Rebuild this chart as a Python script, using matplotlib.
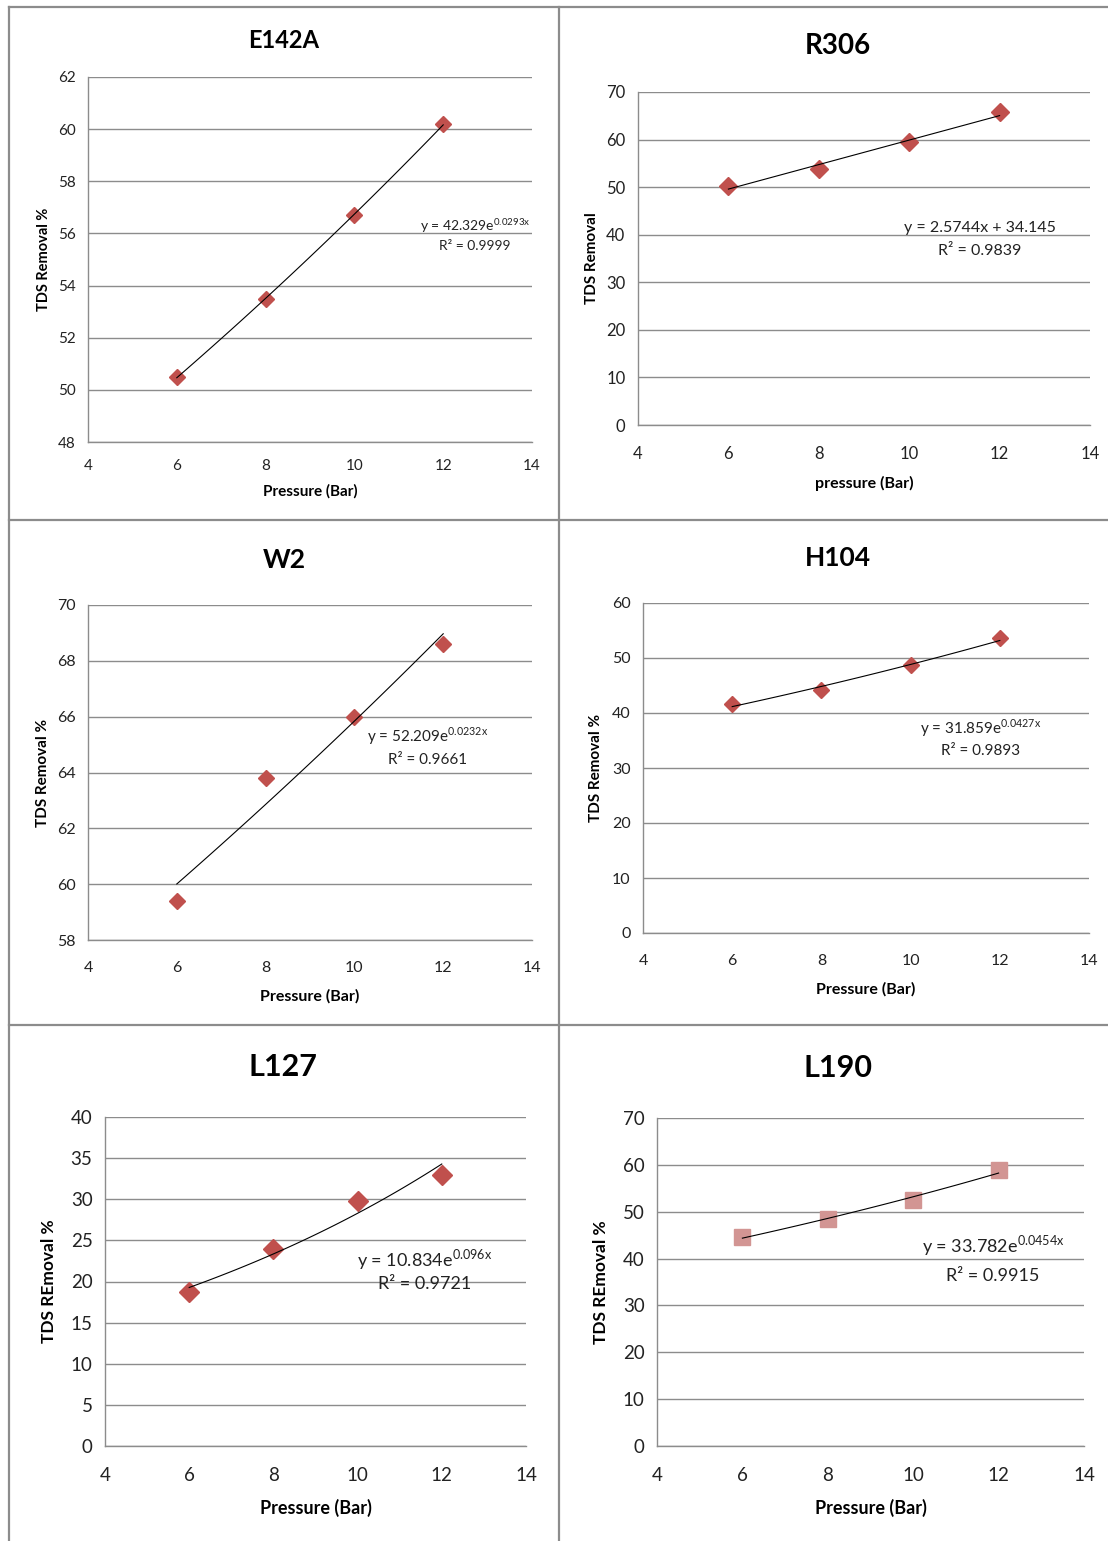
import numpy as np
import matplotlib
matplotlib.use("Agg")
import matplotlib.pyplot as plt
from matplotlib.lines import Line2D

plt.rcParams['font.family'] = ['Lato', 'DejaVu Sans']
plt.rcParams['mathtext.fontset'] = 'custom'
plt.rcParams['mathtext.rm'] = 'Lato'

W, H = 1108, 1541

pressure = [6, 8, 10, 12]

# measured TDS removal per membrane
e142a = [50.5, 53.5, 56.7, 60.2]
r306 = [50.3, 53.9, 59.4, 65.8]
w2 = [59.4, 63.8, 66.0, 68.6]
h104 = [41.6, 44.2, 48.7, 53.6]
l127 = [18.7, 24.0, 29.8, 33.0]
l190 = [44.6, 48.5, 52.5, 59.0]

# trendline coefficients (kind, a, b)
fit_e142a = ("exp", 42.329, 0.0293)
fit_r306 = ("lin", 2.5744, 34.145)
fit_w2 = ("exp", 52.209, 0.0232)
fit_h104 = ("exp", 31.859, 0.0427)
fit_l127 = ("exp", 10.834, 0.096)
fit_l190 = ("exp", 33.782, 0.0454)

r2 = {"E142A": "0.9999", "R306": "0.9839", "W2": "0.9661",
      "H104": "0.9893", "L127": "0.9721", "L190": "0.9915"}

panels = [
    dict(name="E142A", y=e142a, fit=fit_e142a, ylim=(48, 62), step=2,
         box=(88, 77, 532, 442), tx=284, ty=40, mk="D", col="#C0504D",
         ylab="TDS Removal %", xlab="Pressure (Bar)", xpad=12, xlpad=8, ylpad=5,
         tfs=17, tick=11, lab=11, eq=10, eqpos=(12.72, 56.3, 55.5), ms=8),
    dict(name="R306", y=r306, fit=fit_r306, ylim=(0, 70), step=10,
         box=(638, 92, 1090, 425), tx=838, ty=46, mk="D", col="#C0504D",
         ylab="TDS Removal", xlab="pressure (Bar)", xpad=15, xlpad=10, ylpad=5,
         tfs=20, tick=12, lab=11.5, eq=11.5, eqpos=(11.57, 41.5, 36.6), ms=9),
    dict(name="W2", y=w2, fit=fit_w2, ylim=(58, 70), step=2,
         box=(88, 605, 532, 940), tx=284, ty=560, mk="D", col="#C0504D",
         ylab="TDS Removal %", xlab="Pressure (Bar)", xpad=15, xlpad=10, ylpad=5,
         tfs=19, tick=11.5, lab=11.5, eq=11, eqpos=(11.64, 65.3, 64.45), ms=8),
    dict(name="H104", y=h104, fit=fit_h104, ylim=(0, 60), step=10,
         box=(643, 603, 1089, 933), tx=838, ty=558, mk="D", col="#C0504D",
         ylab="TDS Removal %", xlab="Pressure (Bar)", xpad=15, xlpad=10, ylpad=6,
         tfs=19, tick=11.5, lab=11.5, eq=11, eqpos=(11.56, 37.3, 33.1), ms=8),
    dict(name="L127", y=l127, fit=fit_l127, ylim=(0, 40), step=5,
         box=(105, 1117, 526, 1446), tx=283, ty=1067, mk="D", col="#C0504D",
         ylab="TDS REmoval %", xlab="Pressure (Bar)", xpad=15, xlpad=11, ylpad=10,
         tfs=22, tick=13.5, lab=13, eq=13, eqpos=(11.6, 22.7, 19.7), ms=10),
    dict(name="L190", y=l190, fit=fit_l190, ylim=(0, 70), step=10,
         box=(657, 1118, 1084, 1446), tx=838, ty=1068, mk="s", col="#D29593",
         ylab="TDS REmoval %", xlab="Pressure (Bar)", xpad=15, xlpad=11, ylpad=10,
         tfs=22, tick=13.5, lab=13, eq=13, eqpos=(11.87, 42.7, 36.3), ms=11),
]

fig = plt.figure(figsize=(W / 100, H / 100), dpi=100)
grid_col = "#8C8C8C"

for p in panels:
    l, t, r, b = p["box"]
    ax = fig.add_axes([l / W, 1 - b / H, (r - l) / W, (b - t) / H])
    ax.set_xlim(4, 14)
    ax.set_ylim(*p["ylim"])
    ax.set_xticks(np.arange(4, 15, 2))
    ax.set_yticks(np.arange(p["ylim"][0], p["ylim"][1] + 0.1, p["step"]))
    ax.grid(axis="y", color=grid_col, lw=1)
    ax.set_axisbelow(True)
    for s in ["top", "right"]:
        ax.spines[s].set_visible(False)
    for s in ["left", "bottom"]:
        ax.spines[s].set_color(grid_col)
        ax.spines[s].set_linewidth(1)
    ax.tick_params(length=0, labelsize=p["tick"], colors="#222222")
    ax.tick_params(axis="y", pad=9)
    ax.tick_params(axis="x", pad=p["xpad"])

    kind, a, k = p["fit"]
    xs = np.linspace(6, 12, 60)
    if kind == "exp":
        ys = a * np.exp(k * xs)
        eq = "y = %se$^{\\mathregular{%sx}}$" % (a, k)
    else:
        ys = a * xs + k
        eq = "y = %sx + %s" % (a, k)
    ax.plot(xs, ys, color="black", lw=0.8, zorder=3)
    ax.plot(pressure, p["y"], ls="none", marker=p["mk"], ms=p["ms"],
            color=p["col"], zorder=2, clip_on=False)

    ex, ey1, ey2 = p["eqpos"]
    ax.text(ex, ey1, eq, ha="center", va="center", fontsize=p["eq"], color="#222222")
    ax.text(ex, ey2, "R² = " + r2[p["name"]], ha="center", va="center",
            fontsize=p["eq"], color="#222222")

    ax.set_xlabel(p["xlab"], fontsize=p["lab"], fontweight="bold", labelpad=p["xlpad"])
    ax.set_ylabel(p["ylab"], fontsize=p["lab"] - 0.5, fontweight="bold", labelpad=p["ylpad"])
    fig.text(p["tx"] / W, 1 - p["ty"] / H, p["name"], ha="center",
             va="center", fontsize=p["tfs"], fontweight="bold")

# panel frame lines
frame = [((9, 9), (7, H)), ((9, W), (7, 7)), ((559, 559), (7, H)),
         ((9, W), (520, 520)), ((9, W), (1025, 1025))]
for xs_, ys_ in frame:
    fig.add_artist(Line2D([x / W for x in xs_], [1 - y / H for y in ys_],
                          color="#8C8C8C", lw=1.6))

fig.savefig("out.png", dpi=100)
